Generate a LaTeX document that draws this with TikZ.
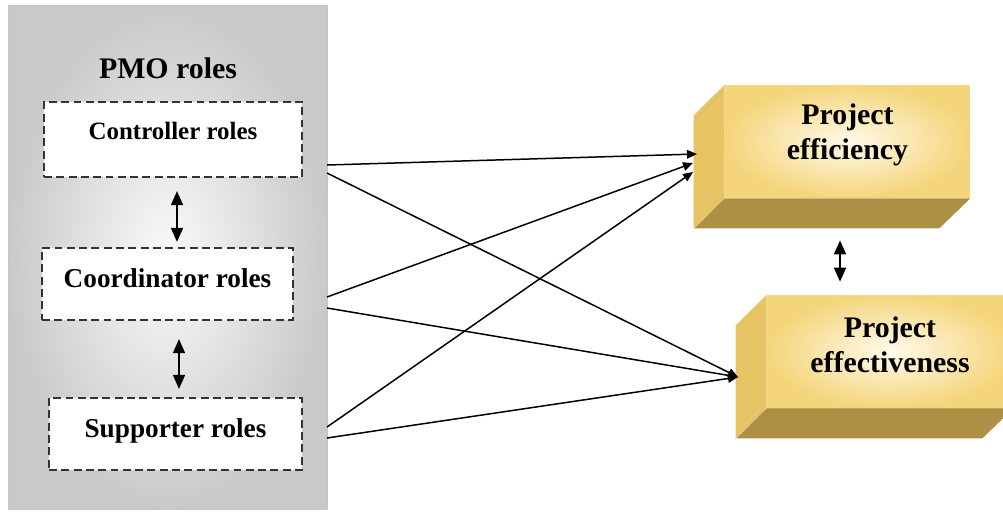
\documentclass[tikz,border=0pt]{standalone}
\usepackage{fontspec}
\setmainfont{Liberation Serif}
\usetikzlibrary{arrows.meta, positioning}

\definecolor{panelgray}{HTML}{C9C9C9}
\definecolor{dashgray}{HTML}{333333}
\definecolor{goldlight}{HTML}{FFFAEA}
\definecolor{goldfront}{HTML}{F5D57C}
\definecolor{goldside}{HTML}{E6C463}
\definecolor{goldbottom}{HTML}{AD9045}

\tikzset{
  panel/.style={rectangle, draw=gray!45, line width=0.6pt, inner color=gray!4, outer color=panelgray,
    minimum width=6.38cm, minimum height=10.1cm},
  title/.style={font=\fontsize{17}{20}\selectfont\bfseries},
  role/.style={rectangle, draw=dashgray, fill=white, line width=1.3pt, dash pattern=on 4.5pt off 2.5pt,
    minimum height=1.44cm, text height=0.3cm, text depth=0.15cm, font=\fontsize{15.5}{18}\selectfont\bfseries},
  outcome/.style={rectangle, inner color=goldlight, outer color=goldfront, minimum width=4.9cm,
    minimum height=2.26cm, align=center, font=\fontsize{17}{20}\selectfont\bfseries},
  link/.style={-{Triangle[length=2mm,width=1.7mm]}, line width=0.85pt},
  both/.style={{Triangle[length=2.8mm,width=2.4mm]}-{Triangle[length=2.8mm,width=2.4mm]}, line width=1pt},
}

\begin{document}
\begin{tikzpicture}[x=0.02cm, y=-0.02cm]
\clip (0,0) rectangle (1003,515);

% PMO side
\node[panel] (pmo) at (167.5,257.5) {};
\node[title] (pmotitle) at (168,68) {PMO roles};
\node[role, minimum width=5.16cm, minimum height=1.5cm, font=\fontsize{14.2}{17}\selectfont\bfseries,
  text depth=0.32cm] (ctrl) at (173,139.5) {Controller roles};
\node[role, minimum width=5.02cm] (coord) at (167.5,284) {Coordinator roles};
\node[role, minimum width=5.06cm] (supp) at (175.5,434) {Supporter roles};

\draw[both] ([xshift=0.08cm,yshift=-0.26cm]ctrl.south) -- ([xshift=0.19cm,yshift=0.1cm]coord.north);
\draw[both] ([xshift=0.23cm,yshift=-0.36cm]coord.south) -- ([xshift=0.07cm,yshift=0.16cm]supp.north);

% outcome boxes
\node[outcome, text depth=0.41cm] (effi) at (847.5,141.5) {Project\\efficiency};
\fill[goldside] (effi.north west) -- (effi.south west) -- ++(-31,30) -- ++(0,-113) -- cycle;
\fill[goldbottom] (effi.south west) -- (effi.south east) -- ++(-31,30) -- ++(-245,0) -- cycle;

\node[outcome, minimum width=4.92cm, text depth=0.26cm] (effe) at (890,351.5) {Project\\effectiveness};
\fill[goldside] (effe.north west) -- (effe.south west) -- ++(-31,30) -- ++(0,-113) -- cycle;
\fill[goldbottom] (effe.south west) -- (effe.south east) -- ++(-31,30) -- ++(-246,0) -- cycle;

\draw[both] ([xshift=-0.15cm,yshift=-0.84cm]effi.south) -- ([xshift=-1cm,yshift=0.26cm]effe.north);

% links
\coordinate (ctrlA) at (327,165);
\coordinate (ctrlB) at (327,173);
\coordinate (coordA) at (327,297);
\coordinate (coordB) at (327,308);
\coordinate (suppA) at (327,427);
\coordinate (suppB) at (327,438);
\coordinate (effiA) at (697,154);
\coordinate (effiB) at (693,163);
\coordinate (effiC) at (693,172);
\coordinate (effeIn) at (738,377);

\draw[link] (ctrlA) -- (effiA);
\draw[link] (ctrlB) -- (effeIn);
\draw[link] (coordA) -- (effiB);
\draw[link] (coordB) -- (effeIn);
\draw[link] (suppA) -- (effiC);
\draw[link] (suppB) -- (effeIn);
\end{tikzpicture}
\end{document}
